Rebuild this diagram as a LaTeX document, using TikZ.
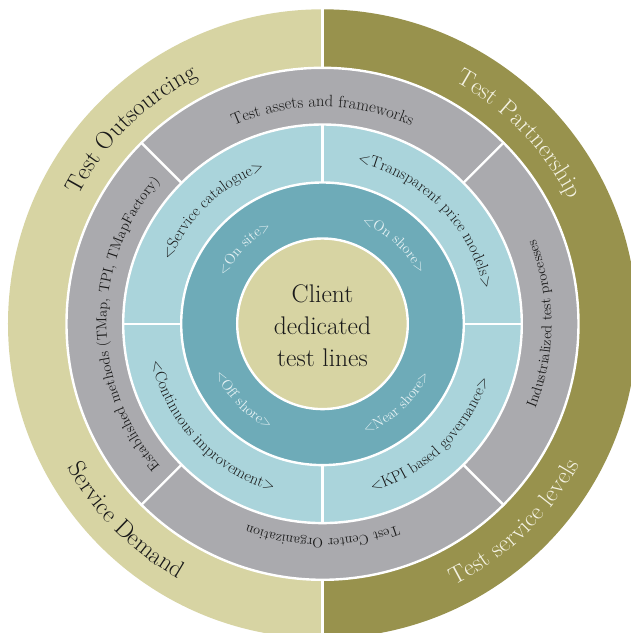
\documentclass[tikz,border=0pt]{standalone}
\usetikzlibrary{decorations.text}
\definecolor{ringbeige}{HTML}{D7D4A3}
\definecolor{ringolive}{HTML}{98924D}
\definecolor{ringgray}{HTML}{AAAAAE}
\definecolor{ringlight}{HTML}{AAD4DB}
\definecolor{ringteal}{HTML}{6EABB8}
\definecolor{txtdark}{HTML}{1A1A1A}
\definecolor{txtolive}{HTML}{F4F2E2}
\definecolor{txtteal}{HTML}{E6F2F4}
% clockwise text (tops outward), centred at angle #1
\newcommand\cwlabel[5]{\path[decorate,decoration={text along path,text align=center,text color=#4,
  text={|\fontsize{#3}{#3}\selectfont|#5}}] ({#1+75}:#2) arc[start angle={#1+75},end angle={#1-75},radius=#2];}
% counter-clockwise text (tops inward), centred at angle #1
\newcommand\ccwlabel[5]{\path[decorate,decoration={text along path,text align=center,text color=#4,
  text={|\fontsize{#3}{#3}\selectfont|#5}}] ({#1-75}:#2) arc[start angle={#1-75},end angle={#1+75},radius=#2];}
\begin{document}
\begin{tikzpicture}[x=1pt,y=1pt,
  sep/.style={white,line width=2.4pt},
  ring/.style={draw=white,line width=2.4pt}]
\useasboundingbox (-322.5,-309.2) rectangle (308.5,323.8);
\clip (-322.5,-309.2) rectangle (308.5,323.8);
% outer ring halves
\fill[ringbeige] (0,-314.5) arc[start angle=-90,end angle=-270,radius=314.5] -- cycle;
\fill[ringolive] (0,314.5) arc[start angle=90,end angle=-90,radius=314.5] -- cycle;
\draw[sep] (0,-320) -- (0,320);
% gray ring
\filldraw[ring,fill=ringgray] (0,0) circle[radius=256];
\foreach \a in {45,135,225,315} \draw[sep] (\a:199) -- (\a:257);
% light blue ring
\filldraw[ring,fill=ringlight] (0,0) circle[radius=199.3];
\foreach \a in {0,90,180,270} \draw[sep] (\a:141) -- (\a:200);
% teal ring
\filldraw[ring,fill=ringteal] (0,0) circle[radius=141.3];
% core
\filldraw[ring,fill=ringbeige] (0,0) circle[radius=85.3];
\node[align=center,text=txtdark,font=\fontsize{25.5}{32}\selectfont] (core) at (0,-1.5) {Client\\dedicated\\test lines};
% outer ring labels
\cwlabel{134.5}{276}{24.5}{txtdark}{Test Outsourcing}
\cwlabel{44}{276}{24.5}{txtolive}{Test Partnership}
\ccwlabel{225}{293}{24.5}{txtdark}{Service Demand}
\ccwlabel{-46}{293}{24.5}{txtolive}{Test service levels}
% gray ring labels
\cwlabel{90}{217}{16.5}{txtdark}{Test assets and frameworks}
\ccwlabel{0}{229}{14.5}{txtdark}{Industrialized test processes}
\cwlabel{270}{215}{14}{txtdark}{Test Center Organization}
\cwlabel{180}{216}{14.5}{txtdark}{Established methods (TMap, TPI, TMapFactory)}
% light blue ring labels
\cwlabel{134}{164.5}{16}{txtdark}{<Service catalogue>}
\cwlabel{45}{164.5}{16}{txtdark}{<Transparent price models>}
\ccwlabel{223}{175}{16}{txtdark}{<Continuous improvement>}
\ccwlabel{-46}{175}{16}{txtdark}{<KPI based governance>}
% teal ring labels
\cwlabel{136}{108}{14.5}{txtteal}{<On site>}
\cwlabel{48}{108}{14.5}{txtteal}{<On shore>}
\ccwlabel{224}{118}{14.5}{txtteal}{<Off shore>}
\ccwlabel{-47}{118}{14.5}{txtteal}{<Near shore>}
\end{tikzpicture}
\end{document}
